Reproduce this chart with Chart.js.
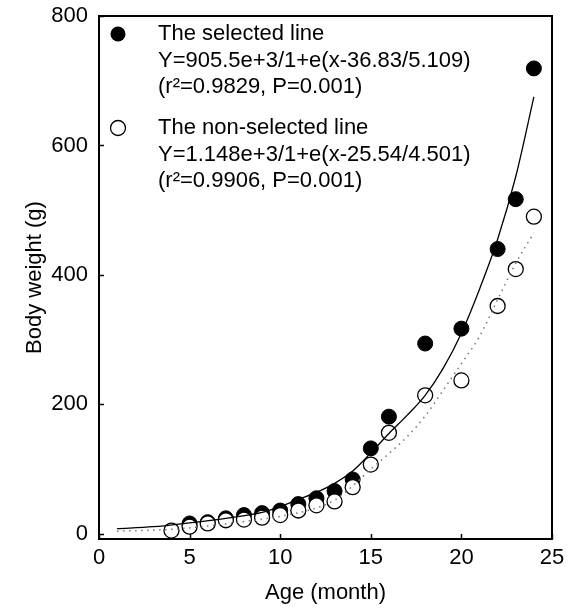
<!DOCTYPE html>
<html lang="en">
<head>
<meta charset="UTF-8">
<title>Body weight x Age</title>
<script src="https://cdn.jsdelivr.net/npm/chart.js"></script>
<style>
  html, body { margin: 0; padding: 0; background: #fff; }
  #box { width: 580px; height: 610px; }
</style>
</head>
<body>
<div id="box"><canvas id="grafico" width="580" height="610"></canvas></div>

<script>
const idadeSel = [5, 6, 7, 8, 9, 10, 11, 12, 13, 14, 15, 16, 18, 20, 22, 23, 24];
const pesoSel = [16, 18, 24, 29, 32, 36, 46, 55, 66, 84, 132, 181, 294, 317, 440, 517, 719];
const idadeNaoSel = [4, 5, 6, 7, 8, 9, 10, 11, 12, 13, 14, 15, 16, 18, 20, 22, 23, 24];
const pesoNaoSel = [5, 11, 16, 21, 22, 25, 29, 36, 44, 50, 72, 107, 156, 214, 237, 352, 409, 490];

// curvas ajustadas (também)
const idadeCurvaSel = [1, 3, 5, 7, 9, 10, 11, 12, 13, 14, 15, 16, 17, 18, 19, 20, 21, 22, 23, 24];
const pesoCurvaSel = [8, 11, 17, 24, 33, 42, 53, 64, 78, 97, 125, 155, 183, 214, 256, 310, 378, 455, 552, 675];
const idadeCurvaNaoSel = [1, 4, 6, 8, 10, 12, 13, 14, 15, 16, 17, 18, 19, 20, 21, 22, 23, 24];
const pesoCurvaNaoSel = [4, 7, 12, 19, 27, 40, 52, 74, 100, 124, 150, 182, 222, 263, 305, 362, 418, 465];

// eixos
const xTicks = [0, 5, 10, 15, 20, 25];
const yTicks = [0, 200, 400, 600, 800];

// legenda
const legendaSel = ['The selected line', 'Y=905.5e+3/1+e(x-36.83/5.109)', '(r²=0.9829, P=0.001)'];
const legendaNaoSel = ['The non-selected line', 'Y=1.148e+3/1+e(x-25.54/4.501)', '(r²=0.9906, P=0.001)'];

Chart.defaults.font.family = '"Liberation Sans", Arial, sans-serif';
Chart.defaults.font.size = 22;
Chart.defaults.color = '#000';

function pares(xs, ys) {
    return xs.map(function (x, i) { return { x: x, y: ys[i] }; });
}

// moldura + ticks para dentro
const moldura = {
    id: 'moldura',
    afterDraw(chart) {
        const ctx = chart.ctx;
        const a = chart.chartArea;
        const sx = chart.scales.x;
        const sy = chart.scales.y;
        ctx.save();
        ctx.strokeStyle = '#000';
        ctx.lineWidth = 1.5;
        for (const v of yTicks) {
            const py = Math.round(sy.getPixelForValue(v)) + 0.5;
            ctx.beginPath(); ctx.moveTo(a.left, py); ctx.lineTo(a.left + 5, py); ctx.stroke();
        }
        for (const v of xTicks) {
            const px = Math.round(sx.getPixelForValue(v)) + 0.5;
            ctx.beginPath(); ctx.moveTo(px, a.bottom); ctx.lineTo(px, a.bottom - 5); ctx.stroke();
        }
        ctx.lineWidth = 2;
        ctx.strokeRect(a.left, a.top, a.right - a.left, a.bottom - a.top);
        ctx.restore();
    }
};

// legenda dentro do gráfico
const legendaTexto = {
    id: 'legendaTexto',
    afterDraw(chart) {
        const ctx = chart.ctx;
        ctx.save();
        ctx.font = '22px "Liberation Sans", Arial, sans-serif';
        ctx.fillStyle = '#000';
        ctx.textBaseline = 'middle';
        ctx.textAlign = 'left';
        const blocos = [
            { linhas: legendaSel, y0: 34, cheio: true },
            { linhas: legendaNaoSel, y0: 128, cheio: false }
        ];
        for (const b of blocos) {
            ctx.beginPath();
            ctx.arc(118, b.y0, 7.5, 0, Math.PI * 2);
            if (b.cheio) {
                ctx.fillStyle = '#000'; ctx.fill();
            } else {
                ctx.fillStyle = '#fff'; ctx.fill();
                ctx.lineWidth = 1.3; ctx.strokeStyle = '#000'; ctx.stroke();
            }
            ctx.fillStyle = '#000';
            b.linhas.forEach(function (t, i) {
                ctx.fillText(t, 158, b.y0 + i * 26.5);
            });
        }
        ctx.restore();
    }
};

const dados = {
    datasets: [
        {
            label: 'Curva selecionada',
            type: 'line',
            data: pares(idadeCurvaSel, pesoCurvaSel),
            borderColor: '#000',
            borderWidth: 1.3,
            pointRadius: 0,
            cubicInterpolationMode: 'monotone',
            order: 0
        },
        {
            label: 'Curva não selecionada',
            type: 'line',
            data: pares(idadeCurvaNaoSel, pesoCurvaNaoSel),
            borderColor: '#777',
            borderWidth: 1.5,
            borderDash: [1.5, 4.5],
            pointRadius: 0,
            cubicInterpolationMode: 'monotone',
            order: 1
        },
        {
            label: 'The non-selected line',
            data: pares(idadeNaoSel, pesoNaoSel),
            pointRadius: 7.5,
            pointBackgroundColor: '#fff',
            pointBorderColor: '#000',
            pointBorderWidth: 1.3,
            showLine: false,
            order: 2
        },
        {
            label: 'The selected line',
            data: pares(idadeSel, pesoSel),
            pointRadius: 7.5,
            pointBackgroundColor: '#000',
            pointBorderColor: '#000',
            pointBorderWidth: 1,
            showLine: false,
            order: 3
        }
    ]
};

const config = {
    type: 'scatter',
    data: dados,
    options: {
        responsive: false,
        animation: false,
        layout: { padding: { left: 0, top: 16, right: 28, bottom: 0 } },
        plugins: {
            legend: { display: false },
            tooltip: { enabled: false }
        },
        scales: {
            x: {
                type: 'linear',
                min: 0,
                max: 25,
                afterFit(scale) {
                    scale.height = 71;
                    scale.paddingLeft = 0;
                    scale.paddingRight = 0;
                },
                afterBuildTicks(scale) { scale.ticks = xTicks.map(function (v) { return { value: v }; }); },
                grid: { display: false, drawTicks: false },
                border: { display: false },
                ticks: { padding: 6, maxRotation: 0, autoSkip: false },
                title: { display: true, text: 'Age (month)', padding: { top: 0, bottom: 4 } }
            },
            y: {
                type: 'linear',
                min: -8,
                max: 800,
                afterFit(scale) {
                    scale.width = 99;
                    scale.paddingTop = 0;
                    scale.paddingBottom = 0;
                },
                afterBuildTicks(scale) { scale.ticks = yTicks.map(function (v) { return { value: v }; }); },
                grid: { display: false, drawTicks: false },
                border: { display: false },
                ticks: { padding: 11 },
                title: { display: true, text: 'Body weight (g)', padding: { top: 22, bottom: 0 } }
            }
        }
    },
    plugins: [moldura, legendaTexto]
};

let grafico = new Chart(document.getElementById('grafico'), config);
</script>
</body>
</html>
